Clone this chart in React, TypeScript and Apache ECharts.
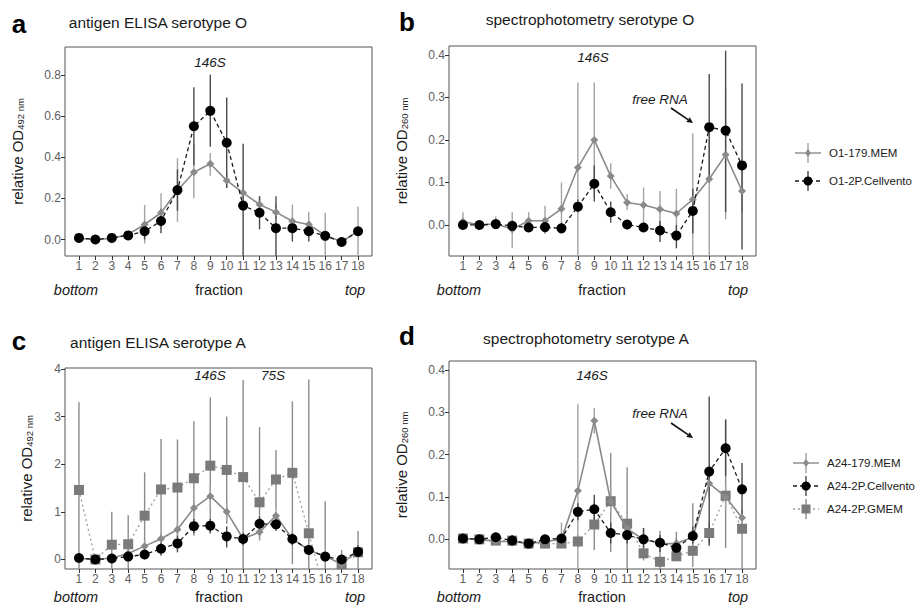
import React, { useEffect, useRef } from "react";
import * as echarts from "echarts";

const fractions = [1, 2, 3, 4, 5, 6, 7, 8, 9, 10, 11, 12, 13, 14, 15, 16, 17, 18];

// Panel a: antigen ELISA serotype O
const aMEM = [0.005, 0.0, 0.005, 0.025, 0.073, 0.13, 0.238, 0.327, 0.368, 0.287, 0.227, 0.17, 0.133, 0.089, 0.073, 0.02, -0.01, 0.04];
const aMEMLo = [0.0, -0.01, 0.0, 0.01, -0.02, 0.05, 0.085, 0.2, 0.31, 0.25, 0.2, 0.12, 0.1, 0.03, 0.02, -0.09, -0.02, -0.08];
const aMEMHi = [0.015, 0.01, 0.015, 0.04, 0.168, 0.225, 0.395, 0.46, 0.42, 0.33, 0.25, 0.21, 0.17, 0.17, 0.135, 0.13, 0.0, 0.16];
const aCell = [0.008, 0.0, 0.008, 0.02, 0.04, 0.09, 0.24, 0.55, 0.625, 0.47, 0.165, 0.13, 0.055, 0.055, 0.04, 0.018, -0.012, 0.04];
const aCellLo = [0.0, -0.005, 0.0, 0.005, 0.0, 0.03, 0.14, 0.36, 0.45, 0.25, -0.1, 0.05, -0.1, -0.01, -0.01, 0.0, -0.02, 0.02];
const aCellHi = [0.015, 0.005, 0.015, 0.035, 0.08, 0.15, 0.34, 0.74, 0.8, 0.69, 0.465, 0.21, 0.21, 0.1, 0.09, 0.04, 0.0, 0.06];

// Panel b: spectrophotometry serotype O
const bMEM = [0.008, 0.0, 0.003, -0.01, 0.01, 0.01, 0.038, 0.135, 0.2, 0.115, 0.053, 0.047, 0.037, 0.027, 0.06, 0.108, 0.165, 0.08];
const bMEMLo = [-0.01, -0.005, -0.01, -0.055, -0.01, -0.01, 0.0, -0.09, 0.065, 0.085, 0.035, 0.005, -0.005, -0.035, -0.09, -0.09, 0.013, 0.03];
const bMEMHi = [0.03, 0.005, 0.02, 0.03, 0.03, 0.045, 0.1, 0.335, 0.335, 0.145, 0.073, 0.088, 0.08, 0.085, 0.215, 0.2, 0.32, 0.13];
const bCell = [0.0, 0.0, 0.002, -0.002, -0.006, -0.005, -0.008, 0.043, 0.097, 0.03, 0.001, -0.006, -0.013, -0.025, 0.033, 0.23, 0.222, 0.14];
const bCellLo = [-0.01, -0.005, -0.005, -0.01, -0.015, -0.02, -0.02, 0.03, 0.055, 0.005, -0.01, -0.012, -0.04, -0.055, -0.02, 0.1, 0.03, -0.058];
const bCellHi = [0.01, 0.005, 0.01, 0.005, 0.0, 0.005, 0.005, 0.06, 0.14, 0.055, 0.01, 0.0, 0.01, 0.0, 0.085, 0.355, 0.41, 0.333];

// Panel c: antigen ELISA serotype A
const cMEM = [0.02, 0.0, 0.03, 0.126, 0.28, 0.435, 0.63, 1.08, 1.33, 1.0, 0.435, 0.575, 0.92, 0.43, 0.2, 0.07, -0.1, 0.2];
const cMEMLo = [0.0, -0.02, 0.0, 0.05, 0.15, 0.3, 0.45, 0.9, 1.1, 0.8, 0.3, 0.45, 0.8, 0.3, 0.1, 0.0, -0.15, 0.1];
const cMEMHi = [0.05, 0.02, 0.06, 0.2, 0.4, 0.55, 0.8, 1.25, 1.55, 1.2, 0.55, 0.7, 1.05, 0.55, 0.3, 0.15, -0.05, 0.3];
const cCell = [0.03, 0.0, 0.02, 0.06, 0.105, 0.225, 0.337, 0.7, 0.71, 0.484, 0.43, 0.75, 0.737, 0.43, 0.2, 0.06, 0.0, 0.16];
const cCellLo = [0.0, -0.02, 0.0, 0.0, 0.05, 0.08, 0.15, 0.55, 0.55, 0.25, 0.3, 0.6, 0.6, 0.3, 0.1, 0.0, -0.1, 0.05];
const cCellHi = [0.06, 0.02, 0.05, 0.12, 0.16, 0.35, 0.5, 0.85, 0.85, 0.7, 0.55, 0.9, 0.85, 0.55, 0.3, 0.12, 0.1, 0.3];
const cGMEM = [1.46, 0.0, 0.31, 0.32, 0.92, 1.47, 1.51, 1.705, 1.97, 1.88, 1.73, 1.2, 1.68, 1.82, 0.55, -0.72, -0.1, 0.15];
const cGMEMLo = [-0.4, -0.05, -0.4, -0.3, 0.0, 0.4, 0.5, 0.5, 0.55, 0.75, -0.3, 0.4, 1.05, -0.1, -0.4, -1.0, -0.3, -0.3];
const cGMEMHi = [3.3, 0.05, 1.0, 0.93, 1.83, 2.53, 2.52, 2.9, 3.4, 3.0, 3.77, 2.78, 2.3, 3.32, 3.78, 1.22, 0.2, 0.6];

// Panel d: spectrophotometry serotype A
const dMEM = [0.002, 0.0, -0.005, -0.005, -0.01, -0.005, 0.0, 0.115, 0.28, 0.09, 0.025, 0.0, -0.01, -0.01, 0.005, 0.132, 0.1, 0.051];
const dMEMLo = [-0.005, -0.005, -0.012, -0.015, -0.015, -0.012, -0.01, -0.08, 0.25, 0.06, 0.0, -0.01, -0.02, -0.02, -0.01, 0.1, 0.07, 0.03];
const dMEMHi = [0.008, 0.005, 0.005, 0.01, -0.005, 0.005, 0.04, 0.32, 0.31, 0.12, 0.05, 0.01, 0.0, 0.0, 0.02, 0.16, 0.13, 0.07];
const dCell = [0.002, 0.0, 0.005, -0.003, -0.01, 0.0, 0.002, 0.065, 0.071, 0.015, 0.01, 0.0, -0.008, -0.02, 0.008, 0.16, 0.215, 0.118];
const dCellLo = [-0.003, -0.004, 0.0, -0.01, -0.015, -0.01, -0.005, 0.045, 0.04, -0.01, -0.01, -0.02, -0.03, -0.04, -0.01, -0.015, 0.15, 0.06];
const dCellHi = [0.006, 0.004, 0.01, 0.01, -0.005, 0.01, 0.01, 0.085, 0.105, 0.04, 0.03, 0.027, 0.01, 0.0, 0.03, 0.337, 0.283, 0.18];
const dGMEM = [0.002, 0.0, -0.003, -0.003, -0.01, -0.01, -0.01, -0.005, 0.035, 0.09, 0.037, -0.033, -0.053, -0.04, -0.027, 0.015, 0.103, 0.025];
const dGMEMLo = [-0.003, -0.004, -0.01, -0.015, -0.015, -0.02, -0.02, -0.02, -0.025, -0.03, -0.07, -0.05, -0.07, -0.05, -0.065, -0.01, -0.02, -0.07];
const dGMEMHi = [0.006, 0.004, 0.005, 0.01, -0.005, 0.0, 0.0, 0.01, 0.09, 0.204, 0.17, 0.027, 0.02, 0.018, 0.085, 0.04, 0.283, 0.05];

const xTicks = fractions;
const yTicksA = [0, 0.2, 0.4, 0.6, 0.8];
const yTicksB = [0, 0.1, 0.2, 0.3, 0.4];
const yTicksC = [0, 1, 2, 3, 4];
const yTicksD = [0, 0.1, 0.2, 0.3, 0.4];

const panelTitles = ["antigen ELISA serotype O", "spectrophotometry serotype O", "antigen ELISA serotype A", "spectrophotometry serotype A"];
const panelLetters = ["a", "b", "c", "d"];
const legendTop = ["O1-179.MEM", "O1-2P.Cellvento"];
const legendBottom = ["A24-179.MEM", "A24-2P.Cellvento", "A24-2P.GMEM"];

const FONT = "Liberation Sans, Arial, Helvetica, sans-serif";
const TICK_COL = "#5e5e5e";

const MEM_COL = "#8a8a8a";
const MEM_ERR = "#a3a3a3";
const CELL_COL = "#000000";
const CELL_LINE = "#1a1a1a";
const CELL_ERR = "#4a4a4a";
const GMEM_COL = "#7a7a7a";
const GMEM_LINE = "#9a9a9a";
const GMEM_ERR = "#8c8c8c";

const yRanges = [
  [-0.08, 0.935],
  [-0.073, 0.421],
  [-0.2, 4.02],
  [-0.07, 0.421],
];

function errSeries(idx: number, lo: number[], hi: number[], color: string, width: number) {
  const [ymin, ymax] = yRanges[idx];
  return {
    type: "custom",
    xAxisIndex: idx,
    yAxisIndex: idx,
    silent: true,
    clip: true,
    z: 1,
    data: fractions.map((f, i) => [f, lo[i], hi[i]]),
    encode: { x: 0, y: [1, 2] },
    renderItem: (params: any, api: any) => {
      const x = api.value(0);
      const l = Math.max(ymin, Math.min(ymax, api.value(1)));
      const h = Math.max(ymin, Math.min(ymax, api.value(2)));
      const p1 = api.coord([x, l]);
      const p2 = api.coord([x, h]);
      return {
        type: "line",
        shape: { x1: p1[0], y1: p1[1], x2: p2[0], y2: p2[1] },
        style: { stroke: color, lineWidth: width },
      };
    },
  };
}

function lineSeries(idx: number, vals: number[], kind: "mem" | "cell" | "gmem") {
  const base: any = {
    type: "line",
    xAxisIndex: idx,
    yAxisIndex: idx,
    data: fractions.map((f, i) => [f, vals[i]]),
    clip: true,
    silent: true,
  };
  if (kind === "mem") {
    return { ...base, z: 3, symbol: "diamond", symbolSize: 8, itemStyle: { color: MEM_COL }, lineStyle: { color: MEM_COL, width: 1.6, type: "solid" } };
  }
  if (kind === "cell") {
    return { ...base, z: 4, symbol: "circle", symbolSize: 10, itemStyle: { color: CELL_COL }, lineStyle: { color: CELL_LINE, width: 1.3, type: [4, 3] } };
  }
  return { ...base, z: 2, symbol: "rect", symbolSize: 10, itemStyle: { color: GMEM_COL }, lineStyle: { color: GMEM_LINE, width: 1.3, type: [2, 3] } };
}

function yAxisDef(idx: number, ticks: number[], dec: number, sub: string) {
  return {
    type: "value",
    gridIndex: idx,
    min: yRanges[idx][0],
    max: yRanges[idx][1],
    splitLine: { show: false },
    axisLine: { show: false },
    axisTick: { show: true, length: 4, customValues: ticks, lineStyle: { color: "#333" } },
    axisLabel: {
      customValues: ticks,
      color: TICK_COL,
      fontSize: 12,
      fontFamily: FONT,
      margin: 4,
      formatter: (v: number) => v.toFixed(dec),
    },
    name: "{m|relative OD}{s|" + sub + "}",
    nameLocation: "middle",
    nameGap: dec === 0 ? 31 : 40,
    nameTextStyle: {
      rich: {
        m: { fontSize: 15, color: "#1a1a1a", fontFamily: FONT },
        s: { fontSize: 9.5, color: "#1a1a1a", fontFamily: FONT, verticalAlign: "bottom", padding: [5, 0, 0, 0] },
      },
    },
  };
}

function xAxisDef(idx: number) {
  return {
    type: "value",
    gridIndex: idx,
    min: 0.15,
    max: 18.85,
    splitLine: { show: false },
    axisLine: { show: false, onZero: false },
    axisTick: { show: true, length: 4, customValues: xTicks, lineStyle: { color: "#333" } },
    axisLabel: { customValues: xTicks, color: TICK_COL, fontSize: 12, fontFamily: FONT, margin: 4 },
  };
}

function txt(x: number, y: number, text: string, opts: any = {}) {
  return {
    type: "text",
    x,
    y,
    silent: true,
    style: {
      text,
      fontSize: opts.fontSize || 14.5,
      fontFamily: FONT,
      fontStyle: opts.italic ? "italic" : "normal",
      fontWeight: opts.bold ? "bold" : "normal",
      fill: opts.color || "#1a1a1a",
      align: opts.align || "center",
      verticalAlign: "middle",
    },
  };
}

function arrow(x1: number, y1: number, x2: number, y2: number) {
  const ang = Math.atan2(y2 - y1, x2 - x1);
  const L = 6;
  const W = 3;
  const bx = x2 - L * Math.cos(ang);
  const by = y2 - L * Math.sin(ang);
  const px = -Math.sin(ang) * W;
  const py = Math.cos(ang) * W;
  return [
    { type: "line", silent: true, shape: { x1, y1, x2: bx, y2: by }, style: { stroke: "#111", lineWidth: 1.6 } },
    { type: "polygon", silent: true, shape: { points: [[x2, y2], [bx + px, by + py], [bx - px, by - py]] }, style: { fill: "#111" } },
  ];
}

function legendItem(cx: number, cy: number, label: string, kind: "mem" | "cell" | "gmem") {
  const els: any[] = [];
  const lineCol = kind === "mem" ? MEM_COL : kind === "cell" ? CELL_LINE : GMEM_LINE;
  const errCol = kind === "mem" ? MEM_ERR : kind === "cell" ? CELL_ERR : GMEM_ERR;
  const dash = kind === "mem" ? null : kind === "cell" ? [4, 3] : [2, 3];
  els.push({ type: "line", silent: true, shape: { x1: cx - 13, y1: cy, x2: cx + 13, y2: cy }, style: { stroke: lineCol, lineWidth: 1.4, lineDash: dash } });
  els.push({ type: "line", silent: true, shape: { x1: cx, y1: cy - 10, x2: cx, y2: cy + 10 }, style: { stroke: errCol, lineWidth: 1.4 } });
  if (kind === "mem") {
    els.push({ type: "polygon", silent: true, shape: { points: [[cx, cy - 4], [cx + 3, cy], [cx, cy + 4], [cx - 3, cy]] }, style: { fill: MEM_COL } });
  } else if (kind === "cell") {
    els.push({ type: "circle", silent: true, shape: { cx, cy, r: 4.5 }, style: { fill: CELL_COL } });
  } else {
    els.push({ type: "rect", silent: true, shape: { x: cx - 4.5, y: cy - 4.5, width: 9, height: 9 }, style: { fill: GMEM_COL } });
  }
  els.push(txt(cx + 21, cy, label, { fontSize: 11.5, align: "left", color: "#1a1a1a" }));
  return els;
}

export default function App() {
  const ref = useRef<HTMLDivElement>(null);
  useEffect(() => {
    if (!ref.current) return;
    const chart = echarts.init(ref.current, null, { renderer: "svg" });

    const graphics: any[] = [
      txt(19, 24, panelLetters[0], { fontSize: 26, bold: true, color: "#000" }),
      txt(407, 22, panelLetters[1], { fontSize: 26, bold: true, color: "#000" }),
      txt(19, 341, panelLetters[2], { fontSize: 26, bold: true, color: "#000" }),
      txt(407, 336, panelLetters[3], { fontSize: 26, bold: true, color: "#000" }),
      txt(158, 22, panelTitles[0], { fontSize: 15.5 }),
      txt(590, 19, panelTitles[1], { fontSize: 15.5 }),
      txt(158, 342, panelTitles[2], { fontSize: 15.5 }),
      txt(586, 338, panelTitles[3], { fontSize: 15.5 }),
      // axis footers
      txt(76, 290, "bottom", { italic: true }),
      txt(219, 290, "fraction"),
      txt(355, 290, "top", { italic: true }),
      txt(459, 290, "bottom", { italic: true }),
      txt(602, 290, "fraction"),
      txt(738, 290, "top", { italic: true }),
      txt(76, 597, "bottom", { italic: true }),
      txt(219, 597, "fraction"),
      txt(355, 597, "top", { italic: true }),
      txt(459, 597, "bottom", { italic: true }),
      txt(602, 597, "fraction"),
      txt(738, 597, "top", { italic: true }),
      // annotations
      txt(210, 62, "146S", { italic: true, fontSize: 13.5 }),
      txt(593, 57, "146S", { italic: true, fontSize: 13.5 }),
      txt(660, 99, "free RNA", { italic: true, fontSize: 13.5 }),
      txt(210, 375, "146S", { italic: true, fontSize: 13.5 }),
      txt(273, 375, "75S", { italic: true, fontSize: 13.5 }),
      txt(592, 375, "146S", { italic: true, fontSize: 13.5 }),
      txt(660, 413, "free RNA", { italic: true, fontSize: 13.5 }),
      ...arrow(671, 108, 693, 123),
      ...arrow(671, 423, 693, 438),
      ...legendItem(808, 153, legendTop[0], "mem"),
      ...legendItem(808, 181, legendTop[1], "cell"),
      ...legendItem(806, 463, legendBottom[0], "mem"),
      ...legendItem(806, 486, legendBottom[1], "cell"),
      ...legendItem(806, 509, legendBottom[2], "gmem"),
    ];

    const gridStyle = { show: true, borderColor: "#555", borderWidth: 1, backgroundColor: "transparent", containLabel: false };

    chart.setOption({
      animation: false,
      backgroundColor: "#ffffff",
      textStyle: { fontFamily: FONT },
      grid: [
        { ...gridStyle, left: 65, top: 47, width: 307, height: 209 },
        { ...gridStyle, left: 449, top: 46, width: 307, height: 210 },
        { ...gridStyle, left: 65, top: 368, width: 307, height: 201 },
        { ...gridStyle, left: 449, top: 361, width: 307, height: 208 },
      ],
      xAxis: [xAxisDef(0), xAxisDef(1), xAxisDef(2), xAxisDef(3)],
      yAxis: [
        yAxisDef(0, yTicksA, 1, "492 nm"),
        yAxisDef(1, yTicksB, 1, "260 nm"),
        yAxisDef(2, yTicksC, 0, "492 nm"),
        yAxisDef(3, yTicksD, 1, "260 nm"),
      ],
      series: [
        errSeries(0, aMEMLo, aMEMHi, MEM_ERR, 1.4),
        errSeries(0, aCellLo, aCellHi, CELL_ERR, 1.4),
        lineSeries(0, aMEM, "mem"),
        lineSeries(0, aCell, "cell"),

        errSeries(1, bMEMLo, bMEMHi, MEM_ERR, 1.4),
        errSeries(1, bCellLo, bCellHi, CELL_ERR, 1.4),
        lineSeries(1, bMEM, "mem"),
        lineSeries(1, bCell, "cell"),

        errSeries(2, cGMEMLo, cGMEMHi, GMEM_ERR, 1.4),
        errSeries(2, cMEMLo, cMEMHi, MEM_ERR, 1.4),
        errSeries(2, cCellLo, cCellHi, CELL_ERR, 1.4),
        lineSeries(2, cGMEM, "gmem"),
        lineSeries(2, cMEM, "mem"),
        lineSeries(2, cCell, "cell"),

        errSeries(3, dGMEMLo, dGMEMHi, GMEM_ERR, 1.4),
        errSeries(3, dMEMLo, dMEMHi, MEM_ERR, 1.4),
        errSeries(3, dCellLo, dCellHi, CELL_ERR, 1.4),
        lineSeries(3, dGMEM, "gmem"),
        lineSeries(3, dMEM, "mem"),
        lineSeries(3, dCell, "cell"),
      ],
      graphic: graphics,
    });
    return () => chart.dispose();
  }, []);
  return <div ref={ref} style={{ position: "fixed", left: 0, top: 0, width: 921, height: 613, background: "#fff" }} />;
}
